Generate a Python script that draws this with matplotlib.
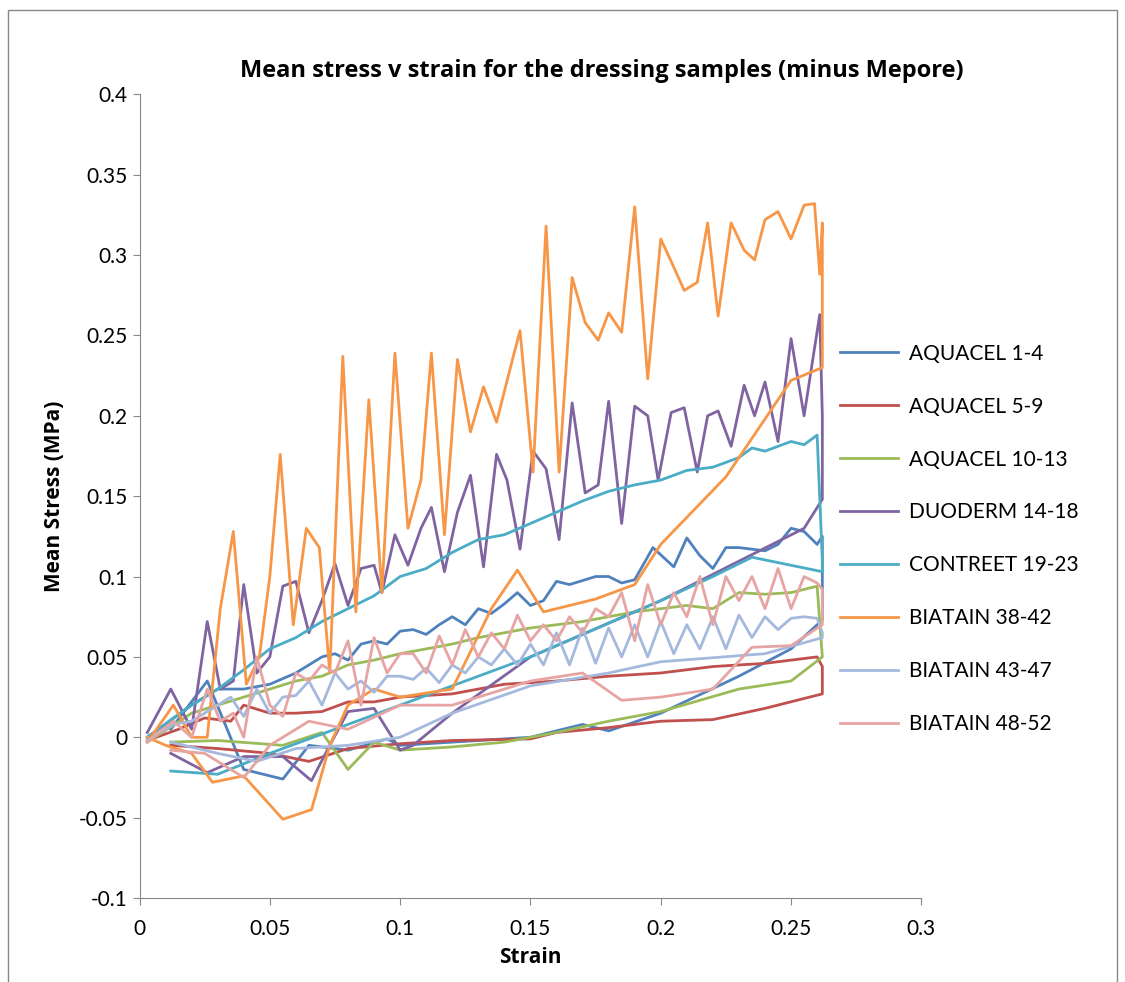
import matplotlib
matplotlib.use("Agg")
import matplotlib.pyplot as plt
from matplotlib.patches import Rectangle

plt.rcParams['font.family'] = ['Lato', 'DejaVu Sans']

# each series: loading path then unloading path, (strain, stress)
aq14_x = [0.003,0.02,0.03,0.04,0.05,0.06,0.07,0.075,0.08,0.085,0.09,0.095,0.1,0.105,0.11,0.115,0.12,0.125,0.13,0.135,0.14,0.145,0.15,0.155,0.16,0.165,0.175,0.18,0.185,0.19,0.197,0.205,0.21,0.215,0.22,0.225,0.23,0.24,0.245,0.25,0.255,0.26,0.262,
          0.262,0.25,0.23,0.2,0.18,0.17,0.15,0.12,0.1,0.095,0.08,0.065,0.055,0.04,0.026,0.012]
aq14_y = [0.0,0.02,0.03,0.03,0.033,0.04,0.05,0.052,0.048,0.058,0.06,0.058,0.066,0.067,0.064,0.07,0.075,0.07,0.08,0.077,0.083,0.09,0.082,0.085,0.097,0.095,0.1,0.1,0.096,0.098,0.118,0.106,0.124,0.113,0.105,0.118,0.118,0.116,0.12,0.13,0.128,0.12,0.125,
          0.073,0.055,0.038,0.015,0.004,0.008,0.0,-0.003,-0.005,-0.001,-0.008,-0.005,-0.026,-0.02,0.035,0.005]

aq59_x = [0.003,0.015,0.025,0.035,0.04,0.05,0.06,0.07,0.08,0.09,0.1,0.12,0.14,0.16,0.18,0.2,0.22,0.24,0.26,0.262,
          0.262,0.24,0.22,0.2,0.18,0.16,0.15,0.12,0.1,0.08,0.065,0.05,0.03,0.012]
aq59_y = [-0.002,0.005,0.012,0.01,0.02,0.015,0.015,0.016,0.022,0.022,0.025,0.027,0.033,0.035,0.038,0.04,0.044,0.046,0.05,0.044,
          0.027,0.018,0.011,0.01,0.006,0.003,-0.001,-0.002,-0.004,-0.007,-0.015,-0.01,-0.007,-0.005]

aq1013_x = [0.003,0.02,0.03,0.04,0.05,0.06,0.07,0.08,0.09,0.1,0.11,0.12,0.13,0.14,0.15,0.16,0.17,0.18,0.19,0.2,0.21,0.22,0.23,0.24,0.25,0.26,0.262,
            0.262,0.25,0.23,0.2,0.18,0.16,0.14,0.12,0.1,0.09,0.08,0.07,0.055,0.03,0.012]
aq1013_y = [-0.003,0.015,0.02,0.025,0.03,0.035,0.038,0.045,0.048,0.052,0.055,0.058,0.062,0.065,0.068,0.07,0.072,0.075,0.078,0.08,0.082,0.08,0.09,0.089,0.09,0.094,0.05,
            0.05,0.035,0.03,0.016,0.01,0.003,-0.003,-0.006,-0.008,-0.003,-0.02,0.003,-0.005,-0.002,-0.003]

duo_x = [0.003,0.012,0.02,0.026,0.031,0.036,0.04,0.045,0.05,0.055,0.06,0.065,0.07,0.075,0.08,0.085,0.09,0.093,0.098,0.103,0.108,0.112,0.117,0.122,0.127,0.132,0.137,0.141,0.146,0.151,0.156,0.161,0.166,0.171,0.176,0.18,0.185,0.19,0.195,0.199,0.204,0.209,0.214,0.218,0.222,0.227,0.232,0.236,0.24,0.245,0.25,0.255,0.261,0.262,
         0.262,0.255,0.2,0.15,0.12,0.105,0.1,0.09,0.08,0.073,0.066,0.055,0.04,0.026,0.012]
duo_y = [0.003,0.03,0.005,0.072,0.03,0.035,0.095,0.04,0.05,0.094,0.097,0.065,0.085,0.108,0.082,0.105,0.107,0.09,0.126,0.107,0.13,0.143,0.103,0.14,0.163,0.106,0.176,0.16,0.117,0.178,0.167,0.123,0.208,0.152,0.157,0.209,0.133,0.206,0.2,0.16,0.202,0.205,0.165,0.2,0.203,0.181,0.219,0.2,0.221,0.184,0.248,0.2,0.263,0.2,
         0.148,0.13,0.085,0.05,0.015,-0.005,-0.008,0.018,0.016,-0.005,-0.027,-0.012,-0.012,-0.022,-0.01]

con_x = [0.003,0.013,0.02,0.03,0.04,0.05,0.06,0.07,0.08,0.09,0.1,0.11,0.12,0.13,0.14,0.15,0.16,0.17,0.18,0.19,0.2,0.21,0.22,0.23,0.235,0.24,0.25,0.255,0.26,0.262,
         0.262,0.235,0.22,0.2,0.15,0.1,0.05,0.03,0.012]
con_y = [0.0,0.012,0.02,0.03,0.042,0.055,0.062,0.072,0.08,0.088,0.1,0.105,0.115,0.123,0.126,0.133,0.14,0.147,0.153,0.157,0.16,0.166,0.168,0.174,0.18,0.178,0.184,0.182,0.188,0.11,
         0.103,0.112,0.1,0.085,0.05,0.02,-0.01,-0.023,-0.021]

b3842_x = [0.003,0.013,0.02,0.026,0.031,0.036,0.041,0.046,0.05,0.054,0.059,0.064,0.069,0.073,0.078,0.083,0.088,0.093,0.098,0.103,0.108,0.112,0.117,0.122,0.127,0.132,0.137,0.142,0.146,0.151,0.156,0.161,0.166,0.171,0.176,0.18,0.185,0.19,0.195,0.2,0.204,0.209,0.214,0.218,0.222,0.227,0.232,0.236,0.24,0.245,0.25,0.255,0.259,0.261,0.262,0.262,
           0.262,0.25,0.225,0.2,0.19,0.175,0.16,0.155,0.145,0.135,0.12,0.1,0.09,0.08,0.073,0.066,0.055,0.04,0.028,0.02,0.01,0.003]
b3842_y = [-0.003,0.02,0.0,0.0,0.08,0.128,0.033,0.05,0.1,0.176,0.07,0.13,0.118,0.04,0.237,0.078,0.21,0.09,0.239,0.13,0.16,0.239,0.126,0.235,0.19,0.218,0.196,0.228,0.253,0.165,0.318,0.165,0.286,0.258,0.247,0.264,0.252,0.33,0.223,0.31,0.296,0.278,0.283,0.32,0.262,0.32,0.303,0.297,0.322,0.327,0.31,0.331,0.332,0.288,0.32,0.27,
           0.23,0.222,0.162,0.12,0.095,0.086,0.08,0.078,0.104,0.08,0.03,0.025,0.03,0.02,-0.005,-0.045,-0.051,-0.024,-0.028,-0.01,-0.005,0.0]

b4347_x = [0.003,0.013,0.02,0.03,0.035,0.04,0.045,0.05,0.055,0.06,0.065,0.07,0.075,0.08,0.085,0.09,0.095,0.1,0.105,0.11,0.115,0.12,0.125,0.13,0.135,0.14,0.145,0.15,0.155,0.16,0.165,0.17,0.175,0.18,0.185,0.19,0.195,0.2,0.205,0.21,0.215,0.22,0.225,0.23,0.235,0.24,0.245,0.25,0.255,0.26,0.262,
           0.262,0.24,0.2,0.18,0.15,0.12,0.1,0.08,0.06,0.045,0.03,0.012]
b4347_y = [-0.002,0.008,0.01,0.02,0.025,0.013,0.03,0.015,0.025,0.026,0.035,0.02,0.04,0.03,0.035,0.028,0.038,0.038,0.036,0.043,0.034,0.045,0.04,0.05,0.045,0.055,0.045,0.058,0.045,0.065,0.045,0.068,0.046,0.068,0.05,0.07,0.05,0.072,0.052,0.07,0.055,0.075,0.055,0.076,0.062,0.075,0.067,0.074,0.075,0.074,0.065,
           0.062,0.052,0.047,0.04,0.032,0.015,0.0,-0.005,-0.007,-0.015,-0.01,-0.003]

b4852_x = [0.003,0.013,0.02,0.026,0.031,0.036,0.04,0.045,0.05,0.055,0.06,0.065,0.07,0.075,0.08,0.085,0.09,0.095,0.1,0.105,0.11,0.115,0.12,0.125,0.13,0.135,0.14,0.145,0.15,0.155,0.16,0.165,0.17,0.175,0.18,0.185,0.19,0.195,0.2,0.205,0.21,0.215,0.22,0.225,0.23,0.235,0.24,0.245,0.25,0.255,0.26,0.262,
           0.262,0.25,0.235,0.22,0.2,0.185,0.17,0.15,0.12,0.1,0.08,0.065,0.05,0.04,0.025,0.012]
b4852_y = [-0.003,0.01,0.0,0.03,0.01,0.015,0.0,0.05,0.02,0.013,0.04,0.035,0.045,0.04,0.06,0.02,0.062,0.04,0.052,0.052,0.04,0.063,0.045,0.067,0.05,0.065,0.055,0.076,0.06,0.07,0.06,0.075,0.065,0.08,0.075,0.09,0.06,0.095,0.07,0.09,0.075,0.1,0.07,0.1,0.085,0.1,0.08,0.105,0.08,0.1,0.096,0.092,
           0.07,0.057,0.056,0.03,0.025,0.023,0.04,0.035,0.02,0.02,0.005,0.01,-0.005,-0.025,-0.01,-0.008]

series = [
    ("AQUACEL 1-4", aq14_x, aq14_y, "#4F81BD"),
    ("AQUACEL 5-9", aq59_x, aq59_y, "#C0504D"),
    ("AQUACEL 10-13", aq1013_x, aq1013_y, "#9BBB59"),
    ("DUODERM 14-18", duo_x, duo_y, "#8064A2"),
    ("CONTREET 19-23", con_x, con_y, "#4BACC6"),
    ("BIATAIN 38-42", b3842_x, b3842_y, "#F79646"),
    ("BIATAIN 43-47", b4347_x, b4347_y, "#A5B9DE"),
    ("BIATAIN 48-52", b4852_x, b4852_y, "#E6A5A3"),
]

bold = ['Open Sans', 'DejaVu Sans']

fig = plt.figure(figsize=(11.25, 9.82), dpi=100)
ax = fig.add_axes([0.124, 0.0855, 0.695, 0.8185])
for name, xs, ys, c in series:
    ax.plot(xs, ys, color=c, lw=2, label=name)

ax.set_xlim(0, 0.3)
ax.set_ylim(-0.1, 0.4)
ax.set_xticks([0, 0.05, 0.1, 0.15, 0.2, 0.25, 0.3])
ax.set_xticklabels(["0", "0.05", "0.1", "0.15", "0.2", "0.25", "0.3"])
ax.set_yticks([-0.1, -0.05, 0, 0.05, 0.1, 0.15, 0.2, 0.25, 0.3, 0.35, 0.4])
ax.set_yticklabels(["-0.1", "-0.05", "0", "0.05", "0.1", "0.15", "0.2", "0.25", "0.3", "0.35", "0.4"])
ax.tick_params(labelsize=15, length=5, color="#888888")
ax.tick_params(axis="x", pad=10)
for s in ["top", "right"]:
    ax.spines[s].set_visible(False)
for s in ["left", "bottom"]:
    ax.spines[s].set_color("#888888")
ax.set_xlabel("Strain", fontsize=15, fontweight="bold", family=bold, labelpad=6)
ax.set_ylabel("Mean Stress (MPa)", fontsize=15, fontweight="bold", family=bold, labelpad=10)
fig.suptitle("Mean stress v strain for the dressing samples (minus Mepore)", x=0.535, y=0.94,
             fontsize=17, fontweight="bold", family=bold)
ax.legend(loc="upper left", bbox_to_anchor=(0.885, 0.70), frameon=False, fontsize=15,
          handlelength=2.8, handletextpad=0.5, labelspacing=1.58, borderaxespad=0)

fig.patches.append(Rectangle((0.007, -0.01), 0.986, 1.0, transform=fig.transFigure,
                             fill=False, edgecolor="#888888", lw=1))
fig.savefig("out.png", dpi=100)
